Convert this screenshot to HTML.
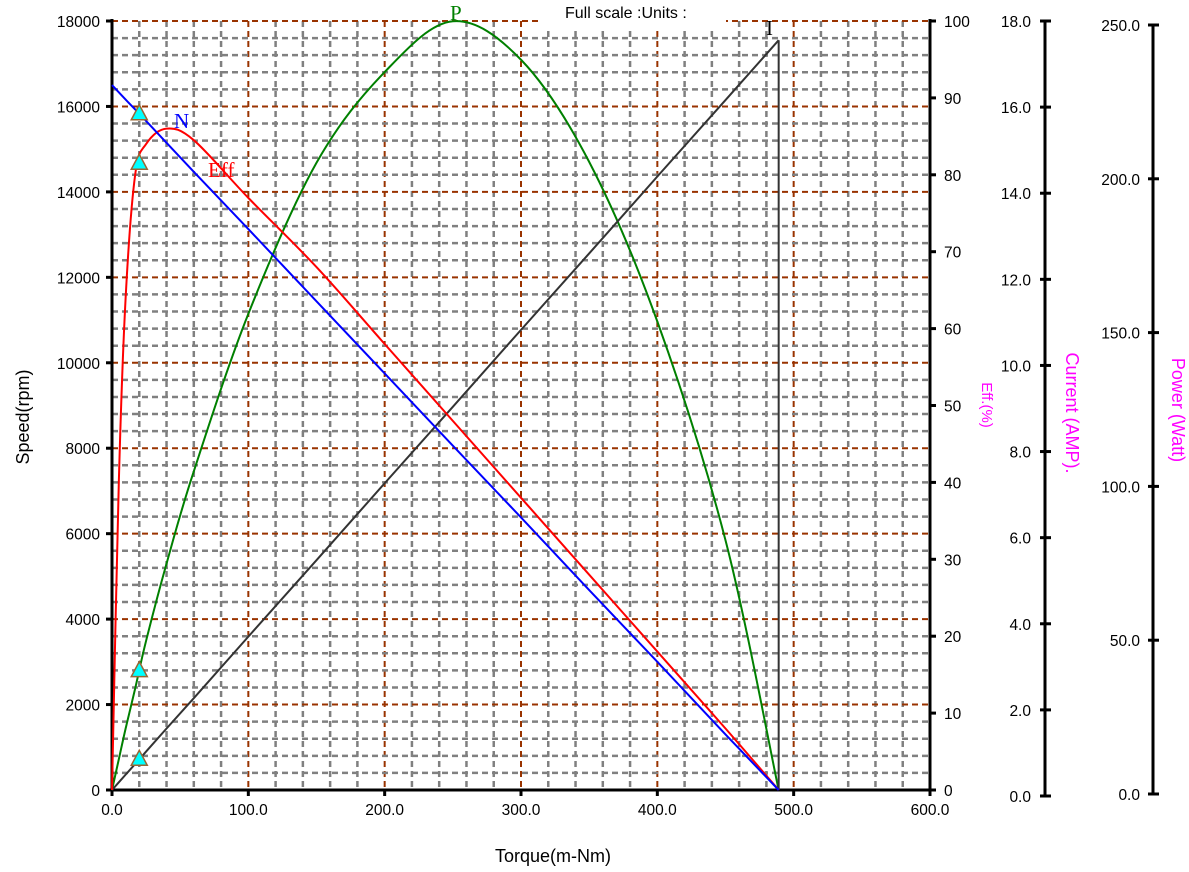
<!DOCTYPE html>
<html><head><meta charset="utf-8">
<style>
html,body{margin:0;padding:0;background:#fff;}
svg{display:block;font-family:"Liberation Sans",sans-serif;}
</style></head>
<body>
<svg id="chart" width="1189" height="872" viewBox="0 0 1189 872" xmlns="http://www.w3.org/2000/svg"></svg>
<script>
// ---- data ----
const xTicks = ["0.0","100.0","200.0","300.0","400.0","500.0","600.0"];
const yTicks = ["0","2000","4000","6000","8000","10000","12000","14000","16000","18000"];
const effTicks = ["0","10","20","30","40","50","60","70","80","90","100"];
const curTicks = ["0.0","2.0","4.0","6.0","8.0","10.0","12.0","14.0","16.0","18.0"];
const powTicks = ["0.0","50.0","100.0","150.0","200.0","250.0"];
const torque = [0,5,10,17,25,40,60,100,150,200,250,300,350,400,450,489];
const speed = [16500,16330,16160,15930,15660,15150,14470,13130,11440,9750,8060,6380,4680,3000,1300,0];
const eff = [0,40,64,80,84,86,84.5,77,68,58,48,38,28,18,8,0];
const power = [0,10,20,33,48.5,73.6,103.6,154.8,203.9,233.4,249.9,237.4,204.2,152.3,81.2,0];
const current = [0,0.18,0.36,0.61,0.9,1.44,2.15,3.59,5.38,7.18,8.97,10.77,12.56,14.36,16.15,17.55];
const markerT = [20];

// ---- scales ----
const X0=112,X1=930,Y0=790,Y1=21;
const sx=t=>X0+(t/600)*(X1-X0);
const sy=v=>Y0-(v/18000)*(Y0-Y1);
const se=v=>Y0-(v/100)*(Y0-Y1);
const sp=v=>Y0-(v/250)*(Y0-Y1);
const sc=v=>Y0-(v/18)*(Y0-Y1);
const svg=document.getElementById('chart');
const NS="http://www.w3.org/2000/svg";
function mk(tag,attrs,parent){const e=document.createElementNS(NS,tag);for(const k in attrs)e.setAttribute(k,attrs[k]);(parent||svg).appendChild(e);return e;}
function txt(s,attrs){const e=mk('text',attrs);e.textContent=s;return e;}

// grid
const grid=mk('g',{});


for(let t=20;t<600;t+=20){const major=t%100===0;
 const l=mk('line',{x1:sx(t),x2:sx(t),y1:Y1,y2:Y0,stroke:major?'#993300':'#808080','stroke-width':major?2:2.5,'stroke-dasharray':'6,4'},grid);
 
 }
for(let v=400;v<=18000;v+=400){const major=v%2000===0;
 const l=mk('line',{x1:X0,x2:X1,y1:sy(v),y2:sy(v),stroke:major?'#993300':'#808080','stroke-width':major?2:2.5,'stroke-dasharray':'6,4'},grid);
 
 }

// title box
const tb=mk('rect',{x:540,y:0,width:186,height:28,fill:'#fff'});


const tt=txt("Full scale :Units :",{x:565,y:18,'font-size':16,fill:'#000'});



// axes
function axisLine(x1,y1,x2,y2,name){const l=mk('line',{x1,y1,x2,y2,stroke:'#000','stroke-width':3});}
axisLine(X0,Y1-2,X0,Y0+2,'y-axis-speed');
axisLine(X0,Y0,X1,Y0,'x-axis-torque');
axisLine(X1,Y1-2,X1,Y0+2,'y-axis-efficiency');
axisLine(1045,21,1045,797,'y-axis-current');
axisLine(1153,25,1153,795,'y-axis-power');

const FS=15.5;
xTicks.forEach((s,i)=>{const x=sx(i*100);
 mk('line',{x1:x,x2:x,y1:Y0,y2:Y0+6,stroke:'#000','stroke-width':3});
 const e=txt(s,{x:x,y:Y0+25,'font-size':FS,'text-anchor':'middle',fill:'#000'});
 
 });
yTicks.forEach((s,i)=>{const y=sy(i*2000);
 mk('line',{x1:X0-6,x2:X0,y1:y,y2:y,stroke:'#000','stroke-width':3});
 const e=txt(s,{x:X0-12,y:y+6,'font-size':FS,'text-anchor':'end',fill:'#000'});
 
 });
effTicks.forEach((s,i)=>{const y=se(i*10);
 mk('line',{x1:X1,x2:X1+6,y1:y,y2:y,stroke:'#000','stroke-width':3});
 const e=txt(s,{x:X1+14,y:y+6,'font-size':FS,fill:'#000'});
 
 });
curTicks.forEach((s,i)=>{const y=796-(i*2/18)*(796-21);
 mk('line',{x1:1040,x2:1051,y1:y,y2:y,stroke:'#000','stroke-width':3});
 const e=txt(s,{x:1031,y:y+6,'font-size':FS,'text-anchor':'end',fill:'#000'});
 
 });
powTicks.forEach((s,i)=>{const y=794-(i*50/250)*(794-25);
 mk('line',{x1:1148,x2:1159,y1:y,y2:y,stroke:'#000','stroke-width':3});
 const e=txt(s,{x:1140,y:y+6,'font-size':FS,'text-anchor':'end',fill:'#000'});
 
 });

// axis titles
let e;
e=txt("Speed(rpm)",{x:0,y:0,'font-size':18,'text-anchor':'middle',transform:'translate(29,417) rotate(-90)',fill:'#000'});

e=txt("Torque(m-Nm)",{x:553,y:862,'font-size':18,'text-anchor':'middle',fill:'#000'});

e=txt("Eff.(%)",{x:0,y:0,'font-size':15,'text-anchor':'middle',transform:'translate(982,405) rotate(90)',fill:'#ff00ff'});

e=txt("Current (AMP).",{x:0,y:0,'font-size':18,'text-anchor':'middle',transform:'translate(1066,413) rotate(90)',fill:'#ff00ff'});

e=txt("Power (Watt)",{x:0,y:0,'font-size':18,'text-anchor':'middle',transform:'translate(1172,410) rotate(90)',fill:'#ff00ff'});


// series
function interp(arr,t){for(let i=0;i<torque.length-1;i++){if(t>=torque[i]&&t<=torque[i+1]){const f=(t-torque[i])/(torque[i+1]-torque[i]);return arr[i]+f*(arr[i+1]-arr[i]);}}return arr[arr.length-1];}
function series(arr,scale,color,name,smooth){
 let d='';
 if(smooth){
  const pts=torque.map((t,i)=>[sx(t),scale(arr[i])]);
  d='M'+pts[0][0]+','+pts[0][1];
  for(let i=0;i<pts.length-1;i++){const p0=pts[i-1]||pts[i],p1=pts[i],p2=pts[i+1],p3=pts[i+2]||p2;
   const c1=[p1[0]+(p2[0]-p0[0])/6,p1[1]+(p2[1]-p0[1])/6],c2=[p2[0]-(p3[0]-p1[0])/6,p2[1]-(p3[1]-p1[1])/6];
   d+=' C'+c1[0]+','+c1[1]+' '+c2[0]+','+c2[1]+' '+p2[0]+','+p2[1];}
 } else d=torque.map((t,i)=>(i?'L':'M')+sx(t)+','+scale(arr[i])).join(' ');
 const p=mk('path',{d,fill:'none',stroke:color,'stroke-width':2});
 
 
 markerT.forEach(t=>{const x=sx(t),y=scale(interp(arr,t));
  const m=mk('polygon',{points:`${x},${y-9} ${x-8},${y+6} ${x+8},${y+6}`,fill:'#00ffff',stroke:'#996633','stroke-width':1.5});
  
  });
}
series(power,sp,'#008000','power-curve',true);
series(current,sc,'#333333','current-curve',false);
const lastT=torque[torque.length-1];
e=mk('line',{x1:sx(lastT),x2:sx(lastT),y1:sc(current[current.length-1]),y2:Y0,stroke:'#333','stroke-width':2});

series(eff,se,'#ff0000','efficiency-curve',true);
series(speed,sy,'#0000ff','speed-curve',false);

// curve labels
const lab=[["P",450,20,'#008000','power-label'],["I",766,35,'#000','current-label'],["N",174,128,'#0000ff','speed-label'],["Eff",208,177,'#ff0000','efficiency-label']];
lab.forEach(l=>{const e=txt(l[0],{x:l[1],y:l[2],'font-size':21,fill:l[3],'font-family':'"Liberation Serif",serif'});
 
 });
</script>
</body></html>
